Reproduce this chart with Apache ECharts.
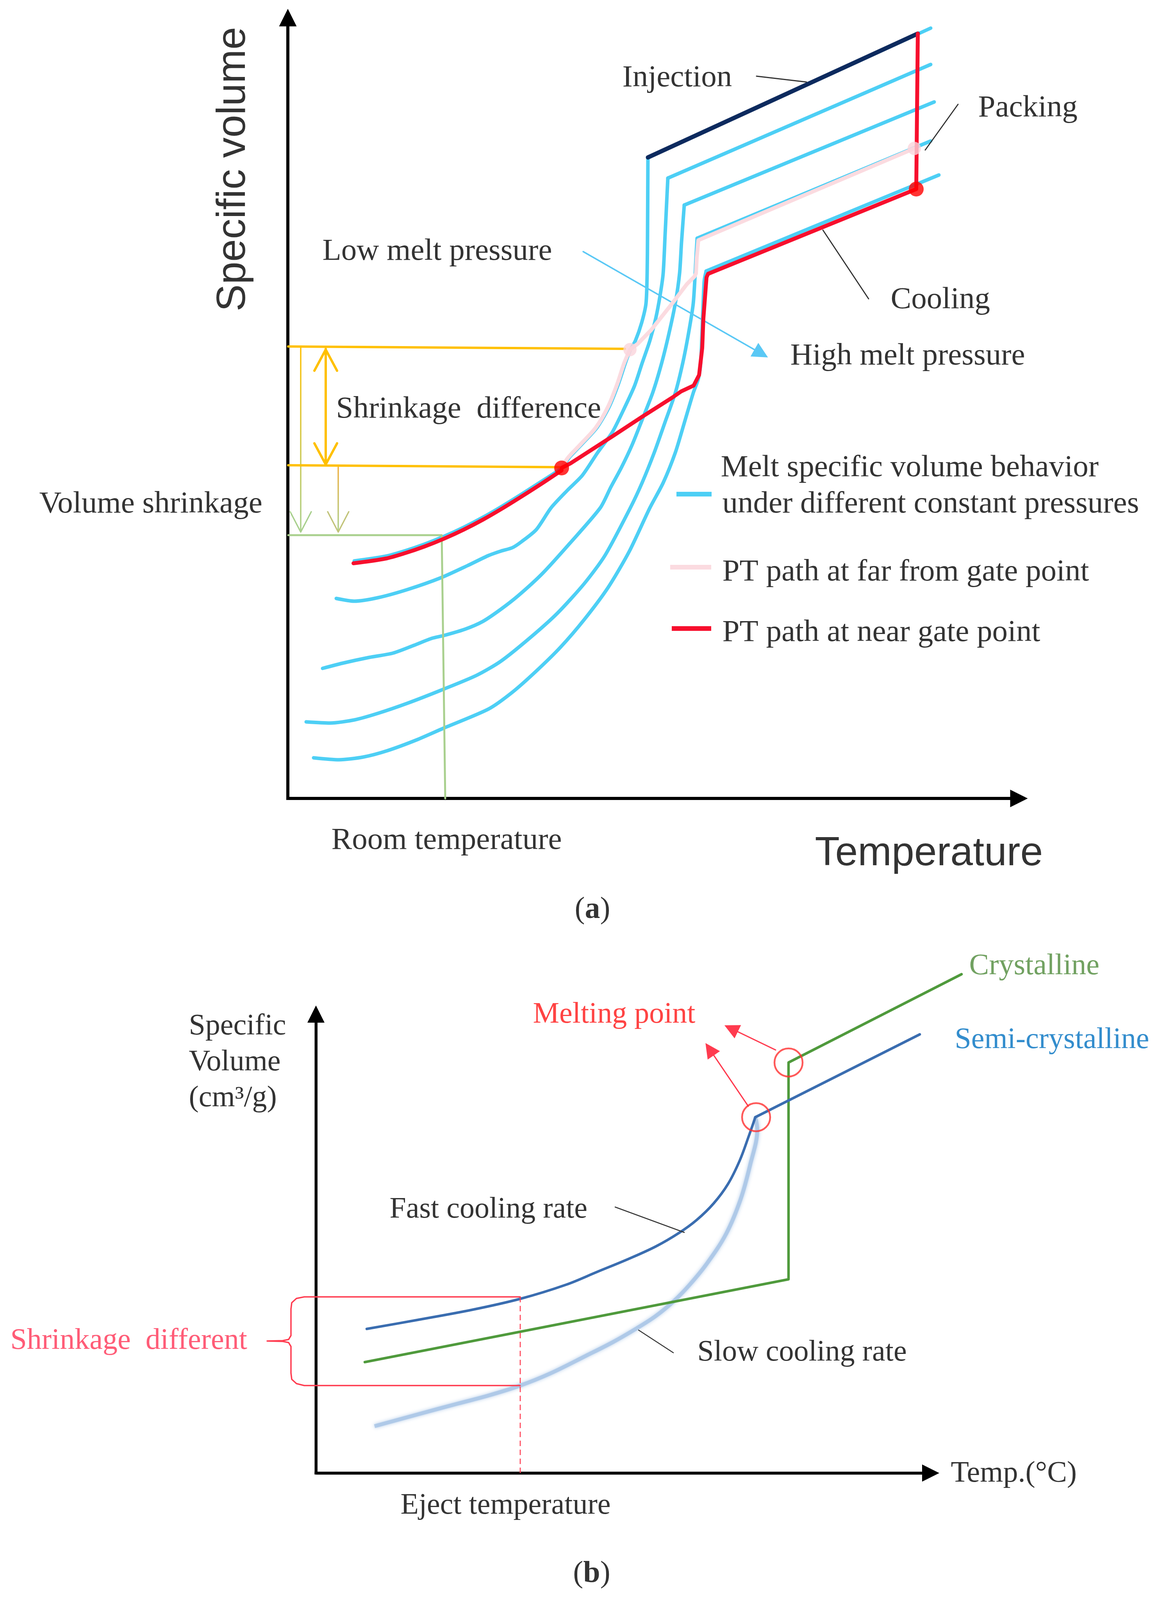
<!DOCTYPE html>
<html>
<head>
<meta charset="utf-8">
<script src="https://cdn.jsdelivr.net/npm/echarts@6/dist/echarts.min.js"></script>
<style>html,body{margin:0;padding:0;background:#fff}#c{width:2965px;height:4105px}</style>
</head>
<body>
<div id="c"></div>
<script>
// ---------- Panel (a): temperature / specific-volume units ----------
const axisAX = [[0,0],[1872,0]];
const axisAY = [[0,0],[0,1999]];
const c1Top = [[1646,1972],[922,1641]];
const c1Low = [[922,1641],[921,1444],[920,1344],[917,1267],[906,1218],[890,1172],[876,1146],[864,1114],[846,1060],[823,1003],[792,950],[752,906],[720,872],[701,846],[650,812],[600,780],[550,749],[500,720],[450,694],[400,671],[350,651],[300,634],[250,620],[170,608]];
const c2Top = [[1646,1879],[973,1588]];
const c2Low = [[973,1588],[966,1444],[961,1344],[953,1287],[942,1229],[927,1172],[907,1114],[888,1057],[862,1000],[831,938],[793,885],[754,827],[716,789],[674,744],[636,688],[598,657],[575,642],[545,633],[514,622],[460,596],[392,565],[307,535],[231,514],[170,505],[124,512]];
const c3Top = [[1655,1783],[1015,1519]];
const c3Low = [[1015,1519],[1008,1424],[1003,1344],[992,1267],[976,1191],[957,1114],[934,1038],[907,969],[881,904],[854,847],[827,797],[800,744],[721,652],[652,576],[591,520],[545,484],[499,453],[453,433],[399,417],[369,410],[323,392],[269,372],[208,361],[139,346],[89,333]];
const c4Top = [[1646,1683],[1048,1434]];
const c4Low = [[1048,1434],[1045,1384],[1043,1344],[1038,1267],[1026,1191],[1011,1114],[992,1038],[965,961],[938,885],[907,808],[877,744],[812,622],[759,550],[690,474],[621,412],[545,351],[483,315],[392,277],[307,244],[231,218],[170,201],[108,193],[47,196]];
const c5Top = [[1667,1596],[1071,1350]];
const c5Low = [[1071,1350],[1066,1324],[1062,1229],[1057,1114],[1051,1074],[1038,1038],[1015,961],[992,885],[961,808],[927,744],[874,632],[820,540],[759,458],[698,387],[636,326],[575,272],[514,229],[399,180],[330,150],[254,122],[193,106],[131,99],[66,104]];
const injection = [[1613,1958],[922,1641]];
const redUpper = [[1613,1958],[1609,1560],[1076,1343],[1072,1334],[1064,1229],[1061,1153],[1053,1084],[1039,1057],[1007,1042],[984,1026],[907,977],[831,927],[724,858],[701,846]];
const redLower = [[701,840],[650,806],[600,774],[550,743],[500,714],[450,688],[400,665],[350,645],[300,628],[250,614],[168,602]];
const pinkUpper = [[1604,1664],[1051,1429],[1047,1384],[1045,1344],[1041,1336],[1022,1317],[984,1267],[930,1199],[896,1164],[876,1149]];
const pinkLower = [[876,1149],[861,1114],[843,1060],[820,1003],[789,950],[749,906],[717,872],[701,846]];
const dotsRed = [[1609,1560],[701,846]];
const dotsPink = [[876,1149],[1604,1664]];
const yellowUpper = [[1,1157],[863,1151]];
const yellowLower = [[1,853],[698,848]];
const diffShaft = [[97,1151],[97,853]];
const diffHeadTop = [[68,1095],[97,1149],[126,1095]];
const diffHeadBottom = [[68,909],[97,855],[126,909]];
const volShaftLeft = [[33,1157],[33,684]];
const volHeadLeft = [[6,734],[33,682],[60,734]];
const volShaftRight = [[129,848],[129,684]];
const volHeadRight = [[102,734],[129,682],[156,734]];
const roomLine = [[1,674],[394,674],[403,0]];
const pressureArrow = [[756,1400],[1212,1139]];
const injectionLeader = [[1200,1849],[1328,1834]];
const packingLeader = [[1716,1777],[1632,1660]];
const coolingLeader = [[1370,1455],[1487,1279]];
const legendBlue = [[995,779],[1085,779]];
const legendPink = [[979,592],[1084,592]];
const legendRed = [[983,435],[1084,435]];
const textsA = [
  ['Injection',856,1844],['Packing',1767,1767],['Cooling',1543,1276],
  ['Low melt pressure',88,1400],['High melt pressure',1286,1132],
  ['Shrinkage  difference',123,996],['Volume shrinkage',-637,753],
  ['Melt specific volume behavior',1108,846],['under different constant pressures',1112,753],
  ['PT path at far from gate point',1112,579],['PT path at near gate point',1112,424],
  ['Room temperature',111,-108]
];
const axisTitleXA = [['Temperature',1349,-142]];
const axisTitleYA = [['Specific volume',-139,1611]];
const captionA = [['a',780,-286]];

// ---------- Panel (b) ----------
const axisBX = [[0,0],[1574,0]];
const axisBY = [[0,0],[0,1175]];
const crystalline = [[1653,1277],[1210,1051],[1210,496],[125,284]];
const semiTop = [[1546,1123],[1125,911]];
const fastCooling = [[1125,911],[1108,862],[1085,800],[1055,740],[1018,690],[975,648],[930,615],[870,580],[800,548],[720,515],[640,482],[523,446],[400,418],[260,392],[130,369]];
const slowCooling = [[1125,911],[1130,879],[1112,790],[1087,700],[1050,612],[1000,535],[955,480],[915,439],[870,402],[822,371],[760,335],[691,300],[600,255],[523,224],[440,198],[364,178],[260,150],[150,120]];
const bracket = [[523,451],[-30,451],[-50,447],[-62,436],[-64,420],[-64,352],[-70,342],[-85,339],[-125,338],[-85,337],[-70,334],[-64,324],[-64,256],[-62,240],[-50,229],[-30,224],[523,224]];
const ejectLine = [[523,451],[523,0]];
const meltCircles = [[1210,1051],[1127,911]];
const meltArrow1 = [[1177,1083],[1063,1138]];
const meltArrow2 = [[1107,939],[1008,1085]];
const fastLeader = [[766,681],[943,616]];
const slowLeader = [[826,366],[915,308]];
const textsB = [['Fast cooling rate',188,674],['Slow cooling rate',976,308],['Eject temperature',216,-84],['Temp.(°C)',1625,-2]];
const yTitleB = [['Specific\nVolume\n(cm³/g)',-326,1051]];
const meltText = [['Melting point',555,1173]];
const crystText = [['Crystalline',1672,1297]];
const semiText = [['Semi-crystalline',1635,1108]];
const shrinkText = [['Shrinkage  different',-783,338]];
const captionB = [['b',706,-259]];

// ---------- styling / building ----------
const SERIF = 'Liberation Serif', SANS = 'Liberation Sans';
const CYAN = '#4dcff5', NAVY = '#0d2a5e', RED = '#f70f2d', PINK = '#fbdbe0';
const YEL = '#ffc000', LGREEN = '#a9d08e';
const GREEN = '#4f9a3c', BLUE = '#3a6db0', SLOW = '#a9c5e6', MRED = '#ff3b4f';

function line(g, data, color, width, extra) {
  return Object.assign({
    type: 'line', xAxisIndex: g, yAxisIndex: g, data: data, clip: false, silent: true,
    showSymbol: false, symbol: 'none', smooth: false, animation: false,
    lineStyle: {color: color, width: width, cap: 'round', join: 'round'}, z: 5
  }, extra || {});
}
function texts(g, items, lab) {
  return {
    type: 'scatter', xAxisIndex: g, yAxisIndex: g, clip: false, silent: true, symbolSize: 1,
    itemStyle: {color: 'rgba(0,0,0,0)'}, z: 30,
    label: Object.assign({show: true, formatter: p => p.data.name, color: '#000', fontFamily: SERIF,
      fontSize: 79, position: 'right', distance: 0}, lab),
    data: items.map(d => ({name: d[0], value: [d[1], d[2]]}))
  };
}
function arrowHead(g, data, color, width, size, cap) {
  return line(g, data, color, width, {
    lineStyle: {color: color, width: width, cap: cap || 'round'},
    markLine: {silent: true, symbol: ['none', 'triangle'], symbolSize: size, animation: false,
      lineStyle: {color: color, width: width, type: 'solid'}, label: {show: false},
      data: [[{coord: data[0]}, {coord: data[1]}]]}
  });
}
function vGrad(top, bottom) {
  return new echarts.graphic.LinearGradient(0, 0, 0, 1, [{offset: 0, color: top}, {offset: 1, color: bottom}]);
}
function axis(g, min, max) {
  return {type: 'value', gridIndex: g, min: min, max: max, splitLine: {show: false}, axisTick: {show: false},
    axisLabel: {show: false}, axisLine: {show: false}};
}

const chart = echarts.init(document.getElementById('c'), null, {width: 2965, height: 4105});
const series = [];
// panel a axes
series.push(arrowHead(0, axisAX, '#000', 8, 45, 'square'));
series.push(arrowHead(0, axisAY, '#000', 8, 45, 'square'));
// panel a curves
[[c1Top,c1Low],[c2Top,c2Low],[c3Top,c3Low],[c4Top,c4Low],[c5Top,c5Low]].forEach(([t,l]) => {
  series.push(line(0, t, CYAN, 9));
  series.push(line(0, l, CYAN, 9, {smooth: 0.25}));
});
series.push(line(0, injection, NAVY, 11, {z: 7}));
series.push(line(0, pinkUpper, PINK, 10, {z: 8}));
series.push(line(0, pinkLower, PINK, 10, {z: 8, smooth: 0.3}));
series.push(line(0, redUpper, RED, 10, {z: 9}));
series.push(line(0, redLower, RED, 10, {z: 9, smooth: 0.3}));
series.push({type: 'scatter', xAxisIndex: 0, yAxisIndex: 0, data: dotsRed, symbolSize: 38, itemStyle: {color: '#ff0000'}, z: 12, silent: true});
series.push({type: 'scatter', xAxisIndex: 0, yAxisIndex: 0, data: dotsPink, symbolSize: 34, itemStyle: {color: '#fad4dc'}, z: 11, silent: true});
series.push(line(0, yellowUpper, YEL, 6, {z: 6}));
series.push(line(0, yellowLower, YEL, 6, {z: 6}));
series.push(line(0, diffShaft, YEL, 6));
series.push(line(0, diffHeadTop, YEL, 6));
series.push(line(0, diffHeadBottom, YEL, 6));
series.push(line(0, volShaftLeft, vGrad(YEL, LGREEN), 3.5));
series.push(line(0, volHeadLeft, LGREEN, 3.5));
series.push(line(0, volShaftRight, vGrad('#f0b040', LGREEN), 3.5));
series.push(line(0, volHeadRight, '#c2c47a', 3.5));
series.push(line(0, roomLine, LGREEN, 5));
series.push(arrowHead(0, pressureArrow, '#5ac8f5', 3.5, 40));
series.push(line(0, injectionLeader, '#333', 3));
series.push(line(0, packingLeader, '#333', 3));
series.push(line(0, coolingLeader, '#333', 3));
series.push(line(0, legendBlue, CYAN, 12, {lineStyle: {color: CYAN, width: 12, cap: 'butt'}}));
series.push(line(0, legendPink, PINK, 12, {lineStyle: {color: PINK, width: 12, cap: 'butt'}}));
series.push(line(0, legendRed, RED, 12, {lineStyle: {color: RED, width: 12, cap: 'butt'}}));
series.push(texts(0, textsA, {}));
series.push(texts(0, axisTitleXA, {fontFamily: SANS, fontSize: 104}));
series.push(texts(0, axisTitleYA, {fontFamily: SANS, fontSize: 104, position: 'inside', rotate: 90, align: 'center', verticalAlign: 'middle'}));
const capRich = {n: {fontFamily: SERIF, fontSize: 78, color: '#000'}, b: {fontFamily: SERIF, fontSize: 78, fontWeight: 'bold', color: '#000'}};
series.push(texts(0, captionA, {position: 'inside', formatter: p => '{n|(}{b|' + p.data.name + '}{n|)}', rich: capRich}));

// panel b
series.push(arrowHead(1, axisBX, '#000', 7, 44, 'square'));
series.push(arrowHead(1, axisBY, '#000', 7, 44, 'square'));
series.push(line(1, slowCooling, SLOW, 10, {smooth: 0.35, z: 4, lineStyle: {color: SLOW, width: 10, shadowBlur: 10, shadowColor: SLOW, opacity: 0.85}}));
series.push(line(1, crystalline, GREEN, 6.5));
series.push(line(1, semiTop, BLUE, 6.5));
series.push(line(1, fastCooling, BLUE, 6.5, {smooth: 0.35}));
series.push(line(1, bracket, MRED, 3.5));
series.push(line(1, ejectLine, MRED, 2.5, {lineStyle: {color: MRED, width: 2.5, type: [14, 9]}}));
series.push({type: 'scatter', xAxisIndex: 1, yAxisIndex: 1, data: meltCircles, symbolSize: 72, silent: true, z: 12,
  itemStyle: {color: 'rgba(0,0,0,0)', borderColor: '#ff3030', borderWidth: 4.5}});
series.push(arrowHead(1, meltArrow1, MRED, 3, 38));
series.push(arrowHead(1, meltArrow2, MRED, 3, 38));
series.push(line(1, fastLeader, '#333', 2.5));
series.push(line(1, slowLeader, '#333', 2.5));
series.push(texts(1, textsB, {fontSize: 76}));
series.push(texts(1, yTitleB, {fontSize: 76, lineHeight: 92, align: 'left'}));
series.push(texts(1, meltText, {fontSize: 76, color: '#ff1414'}));
series.push(texts(1, crystText, {fontSize: 76, color: '#4e8a3a'}));
series.push(texts(1, semiText, {fontSize: 76, color: '#0070c0'}));
series.push(texts(1, shrinkText, {fontSize: 76, color: '#ff3355'}));
series.push(texts(1, captionB, {position: 'inside', formatter: p => '{n|(}{b|' + p.data.name + '}{n|)}', rich: capRich}));

chart.setOption({
  animation: false,
  backgroundColor: '#fff',
  grid: [
    {left: 0, right: 0, top: 0, height: 2400, containLabel: false, outerBoundsMode: 'none'},
    {left: 0, right: 0, top: 2400, height: 1705, containLabel: false, outerBoundsMode: 'none'}
  ],
  xAxis: [axis(0, -737, 2228), axis(1, -809, 2156)],
  yAxis: [axis(0, -356, 2044), axis(1, -334, 1371)],
  series: series
});
</script>
</body>
</html>
